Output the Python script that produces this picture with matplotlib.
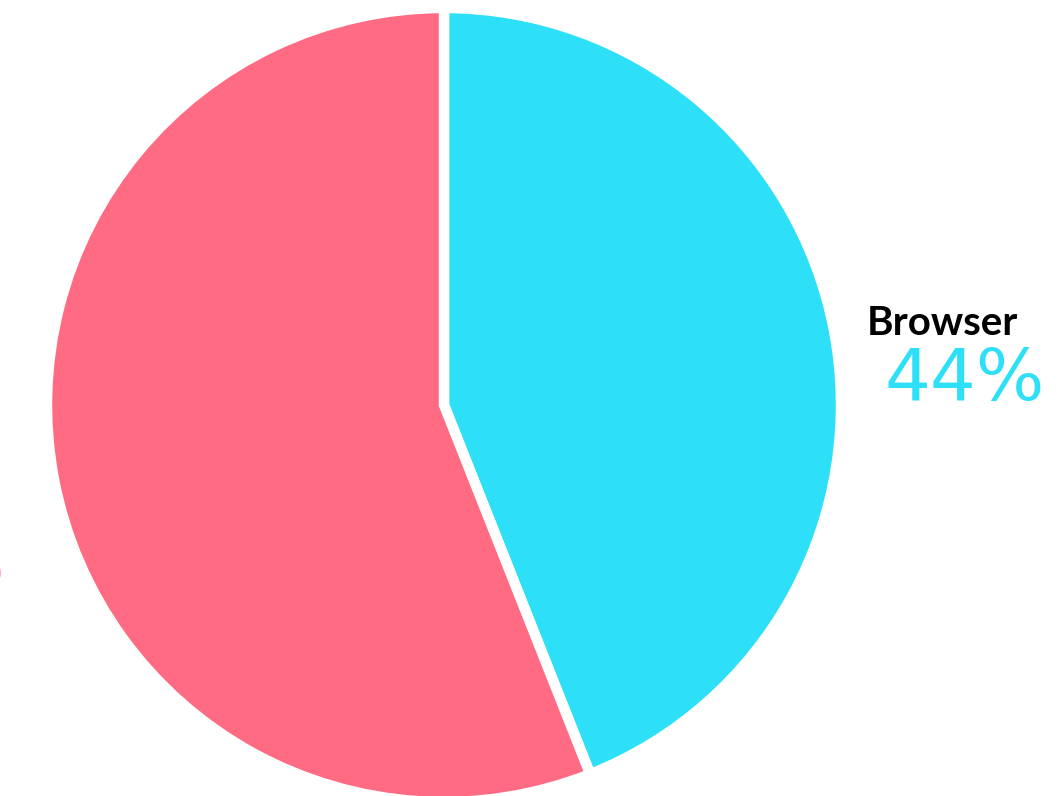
import matplotlib.pyplot as plt

labels = ['Browser', 'App']
shares = [44, 56]
colors = ['#2EDFF8', '#FF6B83']

W, H = 1057, 796

fig = plt.figure(figsize=(W / 100, H / 100), dpi=100)
ax = fig.add_axes([0, 0, 1, 1])

# pie centre / radius in pixel coords (y measured from bottom)
cx, cy, r = 444, H - 405, 397

ax.pie(
    shares,
    colors=colors,
    startangle=90,
    counterclock=False,
    center=(cx, cy),
    radius=r,
    frame=True,
    wedgeprops=dict(edgecolor='white', linewidth=7.5),
)
ax.set_xlim(0, W)
ax.set_ylim(0, H)
ax.axis('off')

# labels
ax.text(867, H - 335, labels[0], fontsize=29, fontweight='bold',
        family='Lato', color='black', ha='left', va='baseline')
ax.text(884, H - 400, f'{shares[0]}%', fontsize=52,
        family='DejaVu Sans', color=colors[0], ha='left', va='baseline')

# second label sits mostly outside the canvas on the left, as in the reference
ax.text(-18, H - 518, labels[1], fontsize=29, fontweight='bold',
        family='Lato', color='black', ha='right', va='baseline')
ax.text(5, H - 586, f'{shares[1]}%', fontsize=52,
        family='DejaVu Sans', color=colors[1], ha='right', va='baseline')

fig.savefig('out.png', dpi=100)
